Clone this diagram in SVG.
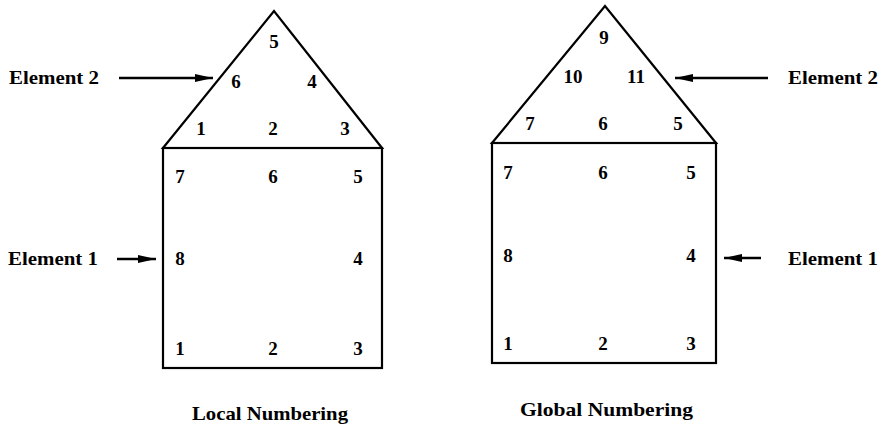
<svg xmlns="http://www.w3.org/2000/svg" width="886" height="429" viewBox="0 0 886 429">
<defs>
<marker id="ah" markerUnits="userSpaceOnUse" markerWidth="20" markerHeight="10" refX="18" refY="5" orient="auto">
<path d="M0,1 L18,5 L0,9 Z" fill="#000"/>
</marker>
</defs>
<style>
.s{fill:none;stroke:#000;stroke-width:2.2}
.n{font-family:"Liberation Serif","Times New Roman",serif;font-weight:bold;font-size:19px;text-anchor:middle;fill:#000}
.l{font-family:"Liberation Serif","Times New Roman",serif;font-weight:bold;font-size:19px;fill:#000}
.a{stroke:#000;stroke-width:2.5;fill:none;marker-end:url(#ah)}
</style>
<rect width="886" height="429" fill="#fff"/>
<g id="local-element2">
<path class="s" d="M163,148 L274,11 L382,148 Z"/>
<text class="n" x="274" y="48">5</text>
<text class="n" x="236" y="88">6</text>
<text class="n" x="312" y="88">4</text>
<text class="n" x="201" y="135">1</text>
<text class="n" x="273" y="135">2</text>
<text class="n" x="345" y="135">3</text>
</g>
<g id="local-element1">
<rect class="s" x="163" y="148" width="219" height="220"/>
<text class="n" x="180" y="183">7</text>
<text class="n" x="273" y="183">6</text>
<text class="n" x="358" y="183">5</text>
<text class="n" x="180" y="265">8</text>
<text class="n" x="358" y="265">4</text>
<text class="n" x="180" y="355">1</text>
<text class="n" x="273" y="355">2</text>
<text class="n" x="358" y="355">3</text>
</g>
<g id="global-element2">
<path class="s" d="M492,143 L605,6 L716,143 Z"/>
<text class="n" x="604" y="44">9</text>
<text class="n" x="573" y="83">10</text>
<text class="n" x="636" y="83">11</text>
<text class="n" x="530" y="130">7</text>
<text class="n" x="603" y="130">6</text>
<text class="n" x="678" y="130">5</text>
</g>
<g id="global-element1">
<rect class="s" x="492" y="143" width="224" height="220"/>
<text class="n" x="508" y="179">7</text>
<text class="n" x="603" y="179">6</text>
<text class="n" x="691" y="179">5</text>
<text class="n" x="508" y="262">8</text>
<text class="n" x="691" y="262">4</text>
<text class="n" x="508" y="350">1</text>
<text class="n" x="603" y="350">2</text>
<text class="n" x="691" y="350">3</text>
</g>
<g id="labels">
<text class="l" x="9" y="84" textLength="90" lengthAdjust="spacingAndGlyphs">Element 2</text>
<text class="l" x="8" y="265" textLength="90" lengthAdjust="spacingAndGlyphs">Element 1</text>
<text class="l" x="788" y="84" textLength="90" lengthAdjust="spacingAndGlyphs">Element 2</text>
<text class="l" x="788" y="265" textLength="90" lengthAdjust="spacingAndGlyphs">Element 1</text>
<text class="l" x="192" y="420" textLength="156" lengthAdjust="spacingAndGlyphs">Local Numbering</text>
<text class="l" x="520" y="416" textLength="173" lengthAdjust="spacingAndGlyphs">Global Numbering</text>
</g>
<g id="connectors">
<line class="a" x1="119" y1="78" x2="213" y2="78"/>
<line class="a" x1="117" y1="259" x2="156" y2="259"/>
<line class="a" x1="768" y1="78" x2="675" y2="78"/>
<line class="a" x1="761" y1="258" x2="724" y2="258"/>
</g>
</svg>
